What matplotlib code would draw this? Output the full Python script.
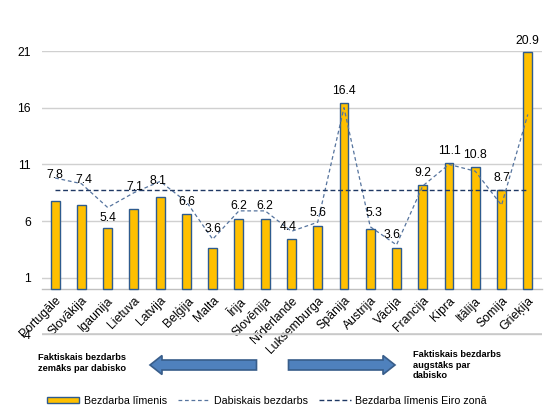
import matplotlib
matplotlib.use("Agg")
import matplotlib.pyplot as plt
from matplotlib.lines import Line2D
from matplotlib.patches import Patch, Polygon

plt.rcParams['font.family'] = ['Liberation Sans', 'DejaVu Sans']

countries = ["Portugāle", "Slovākija", "Igaunija", "Lietuva", "Latvija", "Beļģija",
             "Malta", "Īrija", "Slovēnija", "Nīderlande", "Luksemburga", "Spānija",
             "Austrija", "Vācija", "Francija", "Kipra", "Itālija", "Somija", "Grieķija"]
unemployment = [7.8, 7.4, 5.4, 7.1, 8.1, 6.6, 3.6, 6.2, 6.2, 4.4, 5.6, 16.4,
                5.3, 3.6, 9.2, 11.1, 10.8, 8.7, 20.9]
natural = [9.8, 9.3, 7.2, 8.5, 9.5, 7.7, 4.4, 6.9, 6.9, 5.1, 5.9, 16.0,
           5.5, 3.9, 9.1, 11.0, 10.4, 7.4, 15.4]
euro_area = 8.7
yticks = [-4, 1, 6, 11, 16, 21]

# label placement tweaks (data units above bar top, category-unit x shift)
label_dy = [2.26, 2.2, 0.85, 1.9, 1.4, 1.1, 1.7, 1.1, 1.1, 1.1, 1.1, 1.05,
            1.4, 1.2, 1.06, 1.1, 1.0, 1.1, 1.0]
label_dx = [0, 0.08, 0, 0.03, -0.1, 0, 0, 0, 0, -0.12, 0, 0,
            0.15, -0.18, 0, 0, 0, 0, 0]

W, H = 558, 416
fig = plt.figure(figsize=(W / 100, H / 100), dpi=100)
ax = fig.add_axes([42 / W, 1 - 335.6 / H, (541.7 - 42) / W, (335.6 - 51) / H])

x = list(range(len(countries)))
ax.bar(x, unemployment, width=0.34, color='#FFC000', edgecolor='#2E5B8E',
       linewidth=1.0, zorder=3)
ax.plot(x, natural, linestyle=(0, (3, 2.2)), color='#56749E', linewidth=0.9, zorder=4)
ax.plot(x, [euro_area] * len(x), linestyle=(0, (3.5, 2)), color='#1F3864',
        linewidth=1.0, zorder=4)

for i, v in enumerate(unemployment):
    ax.text(i + label_dx[i], v + label_dy[i], f"{v:.1f}", ha='center', va='center',
            fontsize=8.8, color='#000000', zorder=6, clip_on=False)

ax.set_xlim(-0.5, 18.53)
ax.set_ylim(-4.1, 21)
ax.set_yticks(yticks)
ax.set_yticklabels([str(t) for t in yticks], fontsize=8.8)
ax.yaxis.grid(True, color='#D0D0D0', linewidth=1.0)
ax.set_axisbelow(True)
ax.axhline(-4, color='#C8C8C8', linewidth=1.1, zorder=1)
ax.tick_params(axis='y', length=0, pad=8)
ax.tick_params(axis='x', length=0, pad=4)
for s in ['left', 'right', 'top']:
    ax.spines[s].set_visible(False)
ax.spines['bottom'].set_position(('data', 0))
ax.spines['bottom'].set_color('#BFBFBF')
ax.spines['bottom'].set_linewidth(1.0)
ax.set_xticks(x)
ax.set_xticklabels(countries, rotation=45, ha='right', va='top',
                   rotation_mode='anchor', fontsize=8.8)

# overlay in pixel coordinates for annotations
ov = fig.add_axes([0, 0, 1, 1], zorder=-1)
ov.set_xlim(0, W)
ov.set_ylim(H, 0)
ov.axis('off')

def block_arrow(x_tail, x_tip, yc, body=5.0, head=9.5, head_len=12):
    d = 1 if x_tip > x_tail else -1
    xb = x_tip - d * head_len
    pts = [(x_tail, yc - body), (xb, yc - body), (xb, yc - head), (x_tip, yc),
           (xb, yc + head), (xb, yc + body), (x_tail, yc + body)]
    ov.add_patch(Polygon(pts, closed=True, facecolor='#4F81BD',
                         edgecolor='#385D8A', linewidth=1.2))

block_arrow(256.5, 150, 365)
block_arrow(288.5, 395, 365)

ov.text(38, 363, "Faktiskais bezdarbs\nzemāks par dabisko", fontsize=6.7,
        fontweight='bold', ha='left', va='center', linespacing=1.35)
ov.text(413, 365, "Faktiskais bezdarbs\naugstāks par\ndabisko", fontsize=6.7,
        fontweight='bold', ha='left', va='center', linespacing=1.2)

handles = [Patch(facecolor='#FFC000', edgecolor='#2E5B8E', linewidth=1.0),
           Line2D([], [], linestyle=(0, (3, 2.2)), color='#56749E', linewidth=0.9),
           Line2D([], [], linestyle=(0, (3.5, 2)), color='#1F3864', linewidth=1.0)]
labels = ['Bezdarba līmenis', 'Dabiskais bezdarbs', 'Bezdarba līmenis Eiro zonā']
fig.legend(handles, labels, loc='center', bbox_to_anchor=(267 / W, 1 - 400.7 / H),
           ncol=3, frameon=False, fontsize=7.7, handlelength=3.0,
           handleheight=0.5, handletextpad=0.4, columnspacing=1.0)

fig.savefig('out.png', dpi=100)
